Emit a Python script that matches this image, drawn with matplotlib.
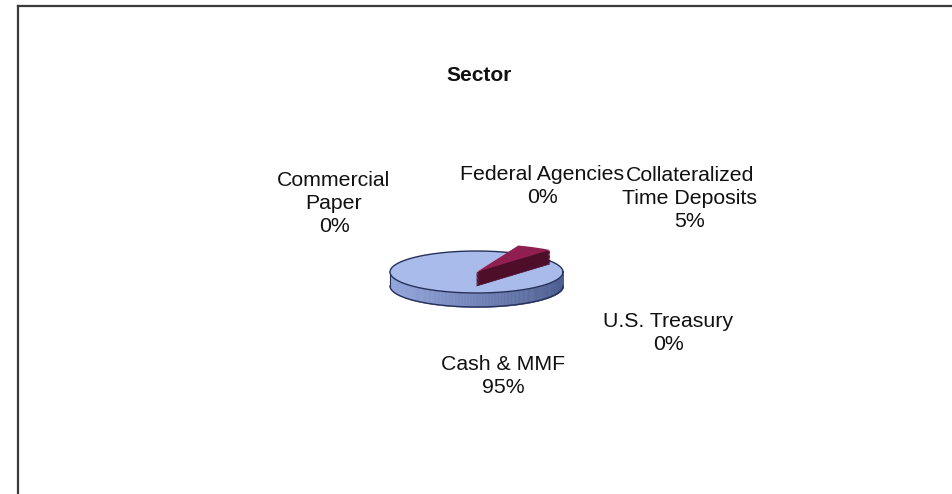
import numpy as np
import matplotlib
matplotlib.use("Agg")
import matplotlib.pyplot as plt
from matplotlib.patches import Wedge
from matplotlib.lines import Line2D
from matplotlib.colors import to_rgb

plt.rcParams['font.family'] = ['Liberation Sans', 'DejaVu Sans']

# ---- data ----
categories = ["Federal Agencies", "Collateralized\nTime Deposits", "U.S. Treasury",
              "Cash & MMF", "Commercial\nPaper"]
values = [0, 5, 0, 95, 0]
pct_labels = ["0%", "5%", "0%", "95%", "0%"]
title = "Sector"

# ---- style ----
W, H = 952, 494
top_colors = ["#A9BBEA", "#8E1F50", "#A9BBEA", "#A9BBEA", "#A9BBEA"]
red_side = "#4E0E2A"
side_left, side_right = "#94A7DC", "#4E5E92"
rim = "#26305A"

fig = plt.figure(figsize=(W / 100, H / 100), dpi=100)
fig.patch.set_facecolor("white")

def fx(x):
    return x / W

def fy(y):
    return 1 - y / H

# border frame (top and left edges visible)
fig.add_artist(Line2D([fx(18), 1.0], [fy(6), fy(6)], transform=fig.transFigure,
                      color="#3a3a3a", linewidth=1.6))
fig.add_artist(Line2D([fx(18), fx(18)], [fy(6), 0.0], transform=fig.transFigure,
                      color="#3a3a3a", linewidth=1.6))

# pie axes: center (476.5, 272) px, rx 86.5, ry 21, depth 14 px
cx, cy, rx, ry, depth_px = 476.5, 272.0, 86.5, 21.0, 14.0
xl, xr, yb, yt = -1.6, 1.6, -2.0, 1.8
left = cx + xl * rx
top = cy - yt * ry
ax = fig.add_axes([fx(left), fy(top + (yt - yb) * ry), (xr - xl) * rx / W, (yt - yb) * ry / H])

wedges, _ = ax.pie(values, startangle=69, counterclock=False, colors=top_colors,
                   wedgeprops=dict(linewidth=0))
ax.set_aspect('auto')
ax.set_xlim(xl, xr)
ax.set_ylim(yb, yt)
ax.axis('off')

d = depth_px / ry

# side of the main disc (front half) with horizontal shading
cl, cr = np.array(to_rgb(side_left)), np.array(to_rgb(side_right))
th = np.linspace(np.pi, 2 * np.pi, 181)
for i in range(len(th) - 1):
    xs = np.cos(th[i:i + 2])
    ys = np.sin(th[i:i + 2])
    t = (np.mean(xs) + 1) / 2
    col = cl * (1 - t) + cr * t
    ax.fill_between(xs, ys, ys - d, color=col, linewidth=0.4, edgecolor=col, zorder=0.5)
xs = np.cos(th)
ax.plot(xs, np.sin(th) - d, color=rim, lw=1.0, zorder=0.6)
ax.plot([-1, -1], [0, -d], color=rim, lw=0.8, zorder=0.6)

# top rim outline
tt = np.linspace(0, 2 * np.pi, 361)
ax.plot(np.cos(tt), np.sin(tt), color=rim, lw=1.0, zorder=1.5)

# the 5% slice, drawn raised out of the disc
k = values.index(5)
w = wedges[k]
w.set_radius(1.35)
w.set_zorder(3)
for off in np.linspace(d, 0, 12)[:-1]:
    ax.add_patch(Wedge((0, -off), 1.35, w.theta1, w.theta2, facecolor=red_side,
                       edgecolor=red_side, linewidth=0.5, zorder=2))

# labels (pixel positions: centre x, baseline of the last line)
label_pos = {
    "Federal Agencies": (542, 203),
    "Collateralized\nTime Deposits": (690, 227),
    "U.S. Treasury": (668, 350),
    "Cash & MMF": (503, 393),
    "Commercial\nPaper": (334, 232),
}
for cat, pct in zip(categories, pct_labels):
    x, y = label_pos[cat]
    fig.text(fx(x), fy(y), cat + "\n" + pct, ha='center', va='baseline',
             fontsize=15.3, linespacing=1.27, color="#111111", multialignment='center')

fig.text(fx(479), fy(81), title, ha='center', va='baseline', fontsize=15,
         fontweight='bold', color="#111111")

fig.savefig("out.png", dpi=100, facecolor="white")
